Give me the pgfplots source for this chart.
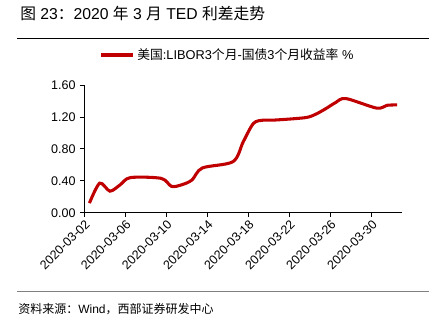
\documentclass[border=0pt]{standalone}
\usepackage{pgfplots}
\pgfplotsset{compat=1.18}
\usepackage{fontspec}
\setmainfont{Liberation Sans}
\newfontfamily\cjk{Noto Sans CJK SC}
\definecolor{tedred}{RGB}{192,0,0}
\begin{document}
\begin{tikzpicture}
\begin{axis}[
  at={(63.225pt,81.975pt)}, anchor=south west, scale only axis,
  width=238.5pt, height=95.8pt,
  xmin=0, xmax=31, ymin=0, ymax=1.6,
  axis x line*=bottom, axis y line*=left,
  axis line style={-, black, line width=0.7pt},
  tick style={black, line width=0.6pt},
  tick align=outside, major tick length=3pt,
  xtick={0,4,8,12,16,20,24,28},
  xticklabels={2020-03-02,2020-03-06,2020-03-10,2020-03-14,2020-03-18,2020-03-22,2020-03-26,2020-03-30},
  xticklabel style={rotate=45, anchor=north east, inner sep=1pt, font=\fontsize{9.4}{9.4}\selectfont},
  ytick={0,0.4,0.8,1.2,1.6},
  yticklabel style={font=\fontsize{9.4}{9.4}\selectfont, /pgf/number format/.cd, fixed, fixed zerofill, precision=2, assume math mode=true},
  clip=false,
]
\addplot[tedred, line width=2.3pt, smooth, tension=0.5] coordinates {
(0.5,0.12) (1.5,0.37) (2.5,0.27) (3.5,0.35) (4.5,0.44) (7.5,0.43) (8.5,0.33) (9.5,0.35) (10.5,0.41) (11.5,0.56) (14.5,0.64) (15.5,0.89) (16.5,1.12) (17.5,1.16) (18.5,1.16) (21.5,1.19) (22.5,1.23) (23.5,1.30) (24.5,1.38) (25.5,1.43) (28.5,1.31) (29.5,1.345) (30.5,1.35)
};
\end{axis}
\begin{scope}[x=0.75pt, y=-0.75pt, yshift=241.5pt]
\path (0,0) rectangle (445,322);
\node[anchor=west, inner sep=0pt, font=\fontsize{11.8}{11.8}\selectfont] at (20,14) {{\cjk 图} 23{\cjk ：}2020 {\cjk 年} 3 {\cjk 月} TED {\cjk 利差走势}};
\draw[black, line width=0.6pt] (17,38.5) -- (429,38.5);
\draw[tedred, line width=2.3pt] (101,55) -- (133,55);
\node[anchor=west, inner sep=0pt, font=\fontsize{9.6}{9.6}\selectfont] at (137,55) {{\cjk 美国}:LIBOR3{\cjk 个月}-{\cjk 国债}3{\cjk 个月收益率} \%};
\draw[gray, line width=1.1pt] (17,291.5) -- (429,291.5);
\node[anchor=west, inner sep=0pt, font=\fontsize{9}{9}\selectfont] at (18,309) {{\cjk 资料来源：}Wind{\cjk ，西部证券研发中心}};
\end{scope}
\end{tikzpicture}
\end{document}
